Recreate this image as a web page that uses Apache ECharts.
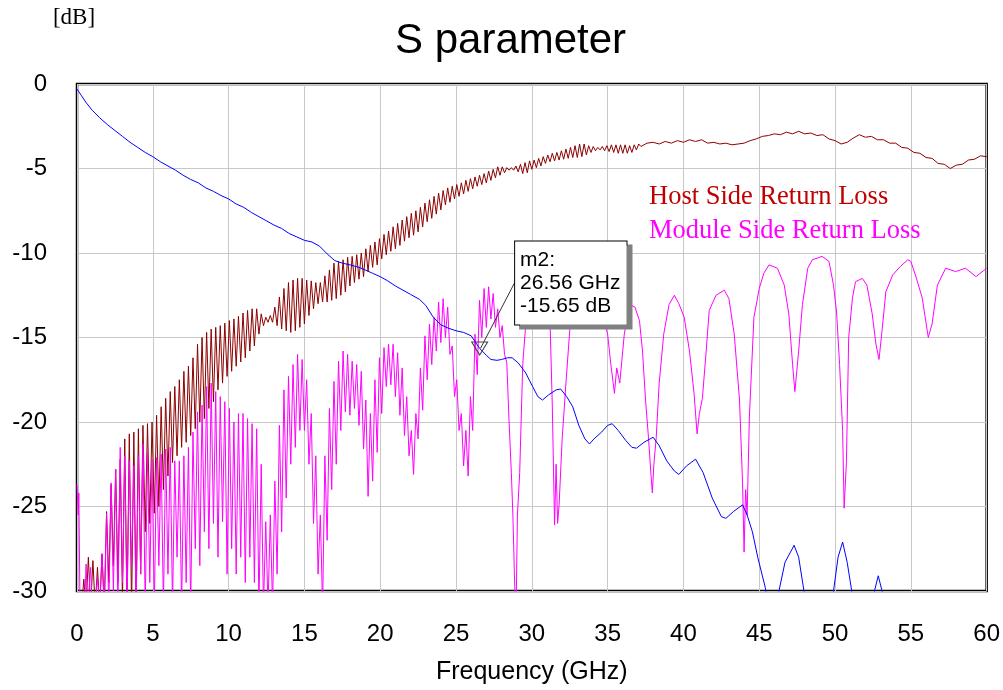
<!DOCTYPE html>
<html>
<head>
<meta charset="utf-8">
<title>S parameter</title>
<script src="https://cdn.jsdelivr.net/npm/echarts@6/dist/echarts.min.js"></script>
<style>
  html, body { margin: 0; padding: 0; background: #fff; }
  #chart { width: 1003px; height: 690px; }
</style>
</head>
<body>
<div id="chart"></div>
<script>
// [GHz, dB]
var hostReturnLoss = [
  [0,-31],[0.15,-31],[0.3,-31],[0.45,-29.3],[0.6,-31],[0.75,-28.0],[0.9,-31],[1.05,-28.2],[1.2,-31],[1.35,-28.6],
  [1.5,-31],[1.65,-27.8],[1.8,-31],[1.95,-25.3],[2.1,-29.5],[2.25,-23.7],[2.4,-28.5],[2.55,-22.8],[2.7,-29.5],[2.85,-22.2],
  [3.0,-30.5],[3.15,-21.0],[3.3,-31],[3.45,-20.7],[3.6,-31],[3.75,-20.6],[3.9,-31],[4.05,-20.4],[4.2,-29],[4.35,-20.2],
  [4.5,-26.5],[4.65,-20.1],[4.8,-26.0],[4.95,-20.0],[5.1,-25.4],[5.25,-19.6],[5.4,-25.0],[5.55,-19.1],[5.7,-24.0],[5.85,-18.6],
  [6.0,-23.2],[6.15,-18.2],[6.3,-22.4],[6.45,-17.9],[6.6,-22.0],[6.75,-17.5],[6.9,-21.5],[7.05,-17.0],[7.2,-21.2],[7.35,-16.7],
  [7.5,-20.8],[7.65,-16.2],[7.8,-20.4],[7.95,-15.4],[8.1,-20.0],[8.25,-15.0],[8.4,-19.8],[8.55,-14.7],[8.7,-19.2],[8.85,-14.5],
  [9.0,-18.8],[9.15,-14.4],[9.3,-18.1],[9.45,-14.3],[9.6,-17.7],[9.75,-14.15],[9.9,-17.3],[10.05,-14.0],[10.2,-17.0],[10.35,-13.9],
  [10.5,-16.7],[10.65,-13.75],[10.8,-16.45],[10.95,-13.55],[11.1,-16.2],[11.25,-13.4],[11.4,-15.8],[11.55,-13.3],[11.7,-15.5],[11.85,-13.3],
  [12.0,-14.8],[12.15,-13.6],[12.3,-14.3],[12.45,-13.8],[12.6,-14.1],[12.75,-13.7],[12.9,-14.1],[13.05,-13.2],[13.2,-14.3],[13.35,-12.6],
  [13.5,-14.5],[13.65,-12.1],[13.8,-14.6],[13.95,-11.75],[14.1,-14.7],[14.25,-11.6],[14.4,-14.6],[14.55,-11.5],[14.7,-14.4],[14.85,-11.5],
  [15.0,-14.2],[15.15,-11.6],[15.3,-13.7],[15.45,-11.65],[15.6,-13.3],[15.75,-11.75],[15.9,-13.0],[16.05,-11.75],[16.2,-12.9],[16.35,-11.35],
  [16.5,-12.9],[16.65,-11.0],[16.8,-12.8],[16.95,-10.6],[17.1,-12.7],[17.25,-10.5],[17.4,-12.5],[17.55,-10.4],[17.7,-12.3],[17.85,-10.25],
  [18.0,-11.95],[18.15,-10.2],[18.3,-11.75],[18.45,-10.1],[18.6,-11.55],[18.75,-10.0],[18.9,-11.4],[19.05,-9.75],[19.2,-11.1],[19.35,-9.55],
  [19.5,-10.85],[19.65,-9.35],[19.8,-10.7],[19.95,-9.15],[20.1,-10.35],[20.25,-8.9],[20.4,-10.1],[20.55,-8.7],[20.7,-9.9],[20.85,-8.45],
  [21.0,-9.75],[21.15,-8.25],[21.3,-9.55],[21.45,-8.05],[21.6,-9.3],[21.75,-7.85],[21.9,-9.1],[22.05,-7.65],[22.2,-8.95],[22.35,-7.5],
  [22.5,-8.75],[22.65,-7.3],[22.8,-8.45],[22.95,-7.05],[23.1,-8.15],[23.25,-6.85],[23.4,-7.95],[23.55,-6.65],[23.7,-7.7],[23.85,-6.45],
  [24.0,-7.45],[24.15,-6.3],[24.3,-7.15],[24.45,-6.15],[24.6,-7.0],[24.75,-6.05],[24.9,-6.8],[25.05,-5.95],[25.2,-6.65],[25.35,-5.85],
  [25.5,-6.5],[25.65,-5.7],[25.8,-6.35],[25.95,-5.6],[26.1,-6.2],[26.25,-5.5],[26.4,-6.05],[26.55,-5.4],[26.7,-5.95],[26.85,-5.3],
  [27.0,-5.85],[27.15,-5.15],[27.3,-5.7],[27.45,-5.05],[27.6,-5.55],[27.75,-4.9],[27.9,-5.4],[28.05,-4.9],[28.2,-5.25],[28.35,-4.95],
  [28.5,-5.1],[28.65,-4.95],[28.8,-5.1],[28.95,-4.85],[29.1,-5.2],[29.25,-4.75],[29.4,-5.3],[29.55,-4.65],[29.7,-5.25],[29.85,-4.55],
  [30.0,-5.05],[30.15,-4.5],[30.3,-4.95],[30.45,-4.4],[30.6,-4.85],[30.75,-4.3],[30.9,-4.7],[31.05,-4.2],[31.2,-4.6],[31.35,-4.1],
  [31.5,-4.55],[31.65,-4.05],[31.8,-4.5],[31.95,-3.95],[32.1,-4.45],[32.25,-3.85],[32.4,-4.4],[32.55,-3.75],[32.7,-4.35],[32.85,-3.65],
  [33.0,-4.35],[33.15,-3.55],[33.3,-4.3],[33.45,-3.55],[33.6,-4.2],[33.75,-3.65],[33.9,-4.05],[34.05,-3.7],[34.2,-3.95],[34.35,-3.75],
  [34.5,-3.9],[34.65,-3.7],[34.8,-3.95],[34.95,-3.65],[35.1,-4.0],[35.25,-3.6],[35.4,-4.05],[35.55,-3.6],[35.7,-4.1],[35.85,-3.6],
  [36.0,-4.1],[36.15,-3.6],[36.3,-4.1],[36.45,-3.65],[36.6,-4.05],[36.75,-3.6],[36.9,-3.9],[37.05,-3.55],[37.2,-3.7],[37.6,-3.5],
  [38.0,-3.45],[38.4,-3.55],[38.8,-3.4],[39.2,-3.5],[39.6,-3.35],[40.0,-3.45],[40.4,-3.3],[40.8,-3.4],[41.2,-3.3],[41.6,-3.5],
  [42.0,-3.45],[42.4,-3.55],[42.8,-3.5],[43.2,-3.6],[43.6,-3.55],[44.0,-3.5],[44.4,-3.35],[44.8,-3.25],[45.2,-3.1],[45.6,-3.05],
  [46.0,-2.95],[46.4,-3.0],[46.8,-2.85],[47.2,-2.95],[47.6,-2.8],[48.0,-2.95],[48.4,-2.9],[48.8,-3.05],[49.2,-3.0],[49.6,-3.25],
  [50.0,-3.35],[50.4,-3.55],[50.8,-3.45],[51.2,-3.2],[51.6,-3.0],[52.0,-3.15],[52.4,-3.1],[52.8,-3.3],[53.2,-3.3],[53.6,-3.5],
  [54.0,-3.5],[54.4,-3.75],[54.8,-3.8],[55.2,-4.05],[55.6,-4.1],[56.0,-4.35],[56.4,-4.4],[56.8,-4.7],[57.2,-4.75],[57.6,-5.0],
  [58.0,-4.8],[58.4,-4.75],[58.8,-4.5],[59.2,-4.45],[59.6,-4.25],[60,-4.3]
];

var moduleReturnLoss = [
  [0,-23.7],[0.08,-25.5],[0.12,-24.2],[0.2,-31],[0.5,-31],[0.6,-28.4],[0.7,-31],[0.9,-28.6],[1.0,-31],[1.2,-31],[1.35,-29.2],
  [1.5,-31],[1.65,-27.8],[1.8,-31],[1.95,-25.4],[2.1,-31],[2.25,-23.6],[2.4,-30],[2.55,-22.8],[2.7,-31],[2.85,-21.5],
  [3.0,-29.5],[3.15,-22.0],[3.3,-31],[3.45,-22.3],[3.6,-28.5],[3.75,-22.6],[3.9,-31],[4.05,-22.0],[4.2,-29],[4.35,-21.3],
  [4.5,-31],[4.65,-21.8],[4.8,-29.5],[4.95,-22.2],[5.1,-31],[5.25,-22.1],[5.4,-28.5],[5.55,-21.9],[5.7,-31],[5.85,-21.6],
  [6.0,-29],[6.15,-21.5],[6.3,-31],[6.45,-22.3],[6.6,-28],[6.75,-22.3],[6.9,-31],[7.05,-22.0],[7.2,-29.5],[7.35,-21.5],
  [7.5,-31],[7.65,-20.6],[7.8,-27.5],[7.95,-19.4],[8.1,-28.5],[8.25,-19.0],[8.4,-26.5],[8.55,-17.9],[8.7,-27.5],[8.85,-17.7],
  [9.0,-26],[9.15,-18.2],[9.3,-28],[9.45,-18.5],[9.6,-25.9],[9.75,-18.8],[9.9,-29],[10.05,-19.2],[10.2,-27.5],[10.35,-20.0],
  [10.5,-29],[10.65,-19.5],[10.8,-28],[10.95,-19.5],[11.1,-29.5],[11.25,-19.8],[11.4,-28],[11.55,-20.1],[11.7,-29.5],[11.85,-20.4],
  [12.0,-31],[12.15,-22.5],[12.3,-31],[12.45,-25.9],[12.6,-31],[12.75,-25.5],[12.9,-31],[13.05,-23.5],[13.2,-29],[13.35,-20.2],
  [13.5,-26.5],[13.65,-18.1],[13.8,-24.5],[13.95,-17.3],[14.1,-22.5],[14.25,-16.6],[14.4,-21.5],[14.55,-16.0],[14.7,-20.5],[14.85,-16.3],
  [15.0,-20.5],[15.15,-17.5],[15.3,-22.5],[15.45,-19.5],[15.6,-26],[15.75,-22],[15.9,-29],[16.05,-25.5],[16.2,-31],[16.35,-22],
  [16.5,-27],[16.65,-19.2],[16.8,-24],[16.95,-17.6],[17.1,-22.5],[17.25,-16.4],[17.4,-20.5],[17.55,-15.8],[17.7,-19.4],[17.85,-16.0],
  [18.0,-19.6],[18.15,-16.4],[18.3,-19.2],[18.45,-16.6],[18.6,-20.2],[18.75,-17.0],[18.9,-21.6],[19.05,-18.7],[19.2,-24.4],[19.35,-19.5],
  [19.5,-23.5],[19.65,-17.5],[19.8,-21.8],[19.95,-16.2],[20.1,-19.5],[20.25,-15.6],[20.4,-17.9],[20.55,-15.4],[20.7,-17.8],[20.85,-15.4],
  [21.0,-18.5],[21.15,-15.9],[21.3,-19.6],[21.45,-16.8],[21.6,-20.8],[21.75,-18.5],[21.9,-22],[22.05,-20.5],[22.2,-23.1],[22.35,-19.5],
  [22.5,-21],[22.65,-16.8],[22.8,-19.3],[22.95,-14.9],[23.1,-17.5],[23.25,-14.2],[23.4,-16.6],[23.55,-13.8],[23.7,-15.8],[23.85,-12.9],
  [24.0,-15.3],[24.15,-12.7],[24.3,-15.0],[24.45,-13.2],[24.6,-16.0],[24.75,-15.5],[24.9,-18.5],[25.05,-17.5],[25.2,-20.5],[25.35,-19.5],
  [25.5,-22.6],[25.65,-20.5],[25.8,-23.2],[25.95,-18.5],[26.1,-20.5],[26.25,-14.8],[26.4,-17.2],[26.55,-12.8],[26.7,-15.0],[26.85,-12.1],
  [27.0,-14.4],[27.15,-12.0],[27.3,-13.9],[27.45,-12.4],[27.6,-14.4],[27.75,-13.3],[27.9,-15.0],[28.05,-14.3],[28.2,-16.0],[28.35,-16.5],
  [28.5,-20],[28.65,-23],[28.75,-25.5],[28.85,-29],[28.95,-32],[29.05,-25.5],
  [29.2,-23.0],[29.4,-16.6],[29.6,-14.2],[29.9,-12.5],[30.4,-11.9],[30.9,-12.3],[31.2,-14.0],[31.35,-19],[31.5,-26.1],[31.6,-22.5],
  [31.7,-26],[31.8,-24.9],[32.0,-21],[32.25,-17.7],[32.5,-14.6],[32.8,-12.6],[33.4,-11.9],[34.0,-12.3],[34.6,-13.5],[35.0,-14.8],
  [35.2,-16.5],[35.45,-18.3],[35.6,-16.8],[35.8,-17.7],[36.1,-14.8],[36.45,-13.05],[36.8,-13.2],[37.1,-14.0],[37.3,-15.8],[37.5,-18.7],
  [37.7,-21],[37.85,-23],[37.95,-24.2],[38.05,-22.5],[38.2,-21.0],[38.4,-17.7],[38.7,-14.8],[39.05,-13.05],[39.4,-12.5],[39.7,-13.0],
  [40.05,-13.8],[40.4,-15.8],[40.7,-18.3],[40.9,-20.7],[41.05,-19.5],[41.25,-18.6],[41.5,-15.8],[41.7,-13.4],[42.15,-12.5],[42.7,-12.2],
  [43.0,-12.7],[43.35,-14.8],[43.7,-18.7],[43.9,-23.6],[44.0,-27.7],[44.1,-24],[44.2,-25.5],[44.35,-19.7],[44.65,-13.8],[45.0,-12.1],
  [45.3,-11.2],[45.65,-10.7],[46.2,-10.9],[46.65,-11.9],[46.95,-13.6],[47.2,-16.6],[47.35,-18.2],[47.6,-15.8],[47.85,-13.05],[48.2,-10.9],
  [48.5,-10.4],[49.15,-10.2],[49.6,-10.5],[49.9,-11.9],[50.1,-13.5],[50.3,-16.6],[50.5,-20.5],[50.6,-25.1],[50.75,-22.4],[50.9,-15.0],
  [51.15,-12.65],[51.35,-11.7],[51.8,-11.5],[52.1,-11.9],[52.45,-13.6],[52.7,-15.4],[52.9,-16.3],[53.1,-14.6],[53.35,-12.3],[53.8,-11.3],
  [54.3,-10.8],[54.8,-10.4],[55.0,-10.5],[55.3,-11.3],[55.75,-12.65],[56.15,-15.0],[56.4,-14.2],[56.75,-11.9],[57.3,-10.9],[57.95,-11.1],
  [58.6,-10.9],[59.3,-11.4],[60,-10.9]
];

// blue trace (the one carrying marker m2)
var insertionLoss = [
  [0,-0.3],[0.3,-0.7],[0.6,-1.1],[1.0,-1.55],[1.5,-2.0],[2.0,-2.4],[2.5,-2.75],[3.0,-3.1],[3.5,-3.45],[4.0,-3.75],
  [4.5,-4.05],[5.0,-4.3],[5.5,-4.6],[6.0,-4.85],[6.5,-5.1],[7.0,-5.4],[7.5,-5.65],[8.0,-5.85],[8.5,-6.15],[9.0,-6.35],
  [9.5,-6.6],[10.0,-6.8],[10.5,-7.1],[11.0,-7.3],[11.5,-7.6],[12.0,-7.85],[12.5,-8.1],[13.0,-8.35],[13.5,-8.55],[14.0,-8.85],
  [14.5,-9.05],[15.0,-9.25],[15.5,-9.35],[16.0,-9.6],[16.5,-10.05],[17.0,-10.45],[17.5,-10.6],[18.0,-10.7],[18.6,-10.85],[19.0,-11.0],
  [19.5,-11.2],[20.0,-11.4],[20.5,-11.65],[21.0,-11.95],[21.5,-12.2],[22.0,-12.45],[22.6,-12.75],[23.0,-13.1],[23.5,-13.8],[24.0,-14.25],
  [24.5,-14.45],[25.0,-14.6],[25.5,-14.7],[26.0,-14.9],[26.56,-15.65],[27.0,-16.05],[27.3,-16.3],[27.7,-16.35],[28.0,-16.3],[28.4,-16.2],
  [28.7,-16.2],[29.1,-16.5],[29.6,-17.1],[30.05,-17.9],[30.4,-18.5],[30.7,-18.7],[31.1,-18.4],[31.6,-18.1],[31.9,-18.05],[32.3,-18.5],
  [32.7,-19.1],[33.1,-20.2],[33.5,-21.0],[33.8,-21.3],[34.1,-21.0],[34.6,-20.6],[35.0,-20.2],[35.3,-20.1],[35.7,-20.5],[36.2,-21.1],
  [36.6,-21.5],[36.9,-21.55],[37.4,-21.2],[38.0,-20.9],[38.4,-21.4],[38.9,-22.3],[39.4,-22.9],[39.7,-23.1],[40.2,-22.6],[40.8,-22.2],
  [41.3,-23.0],[41.9,-24.5],[42.5,-25.6],[42.8,-25.7],[43.3,-25.3],[43.9,-24.9],[44.2,-25.5],[44.55,-26.5],[44.9,-28.0],[45.4,-29.8],
  [45.7,-31.5],[46.0,-32],[46.3,-30],[46.7,-28.3],[47.3,-27.3],[47.6,-28.0],[47.95,-30],[48.3,-32],[49.5,-32],[49.9,-30],
  [50.2,-28.0],[50.5,-27.1],[50.8,-28.3],[51.1,-30],[51.5,-32],[52.4,-32],[52.6,-30],[52.85,-29.1],[53.1,-30],[53.4,-32],[60,-32]
];

var markerName = 'm2';
var markerFreq = 26.56;
var markerDb = -15.65;
var leaderFrom = [28.87, -11.75];

var sans = 'Liberation Sans, Arial, sans-serif';
var serif = 'Liberation Serif, Times New Roman, serif';

var chart = echarts.init(document.getElementById('chart'));

var option = {
  animation: false,
  backgroundColor: '#fff',
  title: {
    text: 'S parameter',
    left: 390,
    top: 15,
    textStyle: { fontFamily: sans, fontSize: 42, fontWeight: 'normal', color: '#000' }
  },
  legend: {
    orient: 'vertical',
    left: 639,
    top: 179,
    icon: 'none',
    itemWidth: 0,
    itemHeight: 26,
    itemGap: 7,
    selectedMode: false,
    textStyle: { fontFamily: serif, fontSize: 26.5 },
    data: [
      { name: 'Host Side Return Loss', textStyle: { color: '#c00000' } },
      { name: 'Module Side Return Loss', textStyle: { color: '#ff00ff' } }
    ]
  },
  grid: {
    left: 77, top: 84, width: 910, height: 514,
    show: true, borderColor: '#000', borderWidth: 2.5, backgroundColor: '#fff'
  },
  xAxis: {
    type: 'value',
    min: 0, max: 60, interval: 5,
    name: 'Frequency (GHz)',
    nameLocation: 'middle',
    nameGap: 69,
    nameTextStyle: { fontFamily: sans, fontSize: 25, color: '#000' },
    axisLine: { show: false },
    axisTick: { show: false },
    axisLabel: { fontFamily: sans, fontSize: 24, color: '#000', margin: 31 },
    splitLine: { show: true, lineStyle: { color: '#c8c8c8', width: 1 } }
  },
  yAxis: {
    type: 'value',
    min: -30, max: 0, interval: 5,
    name: '[dB]',
    nameLocation: 'end',
    nameGap: 66,
    nameTextStyle: {
      fontFamily: serif, fontSize: 23, color: '#000',
      align: 'center', verticalAlign: 'middle', padding: [0, 6, 0, 0]
    },
    axisLine: { show: false },
    axisTick: { show: false },
    axisLabel: { fontFamily: sans, fontSize: 24, color: '#000', margin: 30 },
    splitLine: { show: true, lineStyle: { color: '#c8c8c8', width: 1 } }
  },
  series: [
    {
      name: 'Host Side Return Loss',
      type: 'line',
      data: hostReturnLoss,
      showSymbol: false,
      symbol: 'none',
      clip: true,
      lineStyle: { color: '#8c0000', width: 1 },
      itemStyle: { color: '#8c0000' }
    },
    {
      name: 'Module Side Return Loss',
      type: 'line',
      data: moduleReturnLoss,
      showSymbol: false,
      symbol: 'none',
      clip: true,
      lineStyle: { color: '#ff00ff', width: 1 },
      itemStyle: { color: '#ff00ff' }
    },
    {
      name: 'S21',
      type: 'line',
      data: insertionLoss,
      showSymbol: false,
      symbol: 'none',
      clip: true,
      lineStyle: { color: '#0000ff', width: 1 },
      itemStyle: { color: '#0000ff' },
      markLine: {
        silent: true,
        symbol: 'none',
        label: { show: false },
        lineStyle: { color: '#333', width: 1, type: 'solid' },
        data: [[{ coord: leaderFrom }, { coord: [markerFreq + 0.05, markerDb] }]]
      },
      markPoint: {
        silent: true,
        symbol: 'triangle',
        symbolRotate: 180,
        symbolSize: [16, 13],
        itemStyle: { color: 'rgba(255,255,255,0)', borderColor: '#444', borderWidth: 1 },
        label: {
          show: true,
          position: [44, -100],
          formatter: markerName + ':\n' + markerFreq.toFixed(2) + ' GHz\n' + markerDb.toFixed(2) + ' dB',
          fontFamily: sans,
          fontSize: 21,
          lineHeight: 23,
          color: '#000',
          align: 'left',
          verticalAlign: 'top',
          backgroundColor: '#fff',
          borderColor: '#000',
          borderWidth: 1,
          padding: [7, 6, 7, 5],
          shadowColor: '#808080',
          shadowOffsetX: 5,
          shadowOffsetY: 4,
          shadowBlur: 0
        },
        data: [{ coord: [markerFreq, markerDb] }]
      }
    }
  ]
};

chart.setOption(option);
</script>
</body>
</html>
